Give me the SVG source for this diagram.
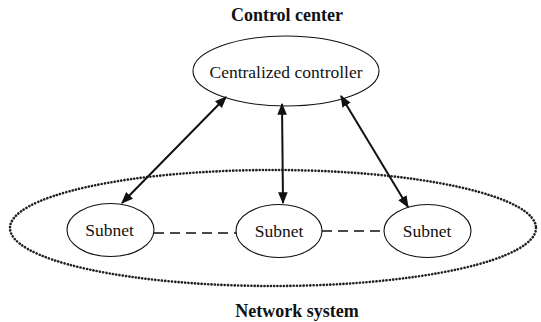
<svg xmlns="http://www.w3.org/2000/svg" width="541" height="322" viewBox="0 0 541 322">
  <style>
    .bubble { fill: #ffffff; stroke: #111111; stroke-width: 1.1; }
    .name { font-family: "Liberation Serif", serif; font-size: 17.5px; fill: #111111; text-anchor: middle; }
    .heading { font-family: "Liberation Serif", serif; font-size: 18px; font-weight: bold; fill: #111111; text-anchor: middle; }
    .link { stroke: #111111; stroke-width: 2; fill: none; marker-start: url(#head); marker-end: url(#head); }
    .peer { stroke: #111111; stroke-width: 1.3; fill: none; stroke-dasharray: 10 6; }
    .region { fill: none; stroke: #222222; stroke-width: 2.6; stroke-dasharray: 0.1 3.2; stroke-linecap: round; }
  </style>
  <defs>
    <marker id="head" viewBox="0 0 10 10" refX="9" refY="5" markerWidth="6" markerHeight="6" markerUnits="strokeWidth" orient="auto-start-reverse">
      <path d="M0,1 L10,5 L0,9 z" fill="#111111"/>
    </marker>
  </defs>

  <rect width="541" height="322" fill="#ffffff"/>

  <!-- network system boundary -->
  <g id="network-system">
    <ellipse class="region" cx="273" cy="228" rx="263" ry="58"/>
    <text class="heading" font-family="Liberation Serif, serif" x="297" y="317">Network system</text>
  </g>

  <!-- control center -->
  <g id="controller">
    <text class="heading" font-family="Liberation Serif, serif" x="287" y="21">Control center</text>
    <ellipse class="bubble" cx="286" cy="71" rx="93" ry="35"/>
    <text class="name" font-family="Liberation Serif, serif" x="286" y="78">Centralized controller</text>
  </g>

  <g id="subnet-1">
    <ellipse class="bubble" cx="110.5" cy="230" rx="43.5" ry="26.5"/>
    <text class="name" font-family="Liberation Serif, serif" x="109.5" y="236">Subnet</text>
  </g>
  <g id="subnet-2">
    <ellipse class="bubble" cx="279" cy="231" rx="43" ry="26.5"/>
    <text class="name" font-family="Liberation Serif, serif" x="279" y="237">Subnet</text>
  </g>
  <g id="subnet-3">
    <ellipse class="bubble" cx="427.5" cy="231" rx="43.5" ry="26.5"/>
    <text class="name" font-family="Liberation Serif, serif" x="427" y="237">Subnet</text>
  </g>

  <!-- connectors -->
  <g id="connectors">
    <line class="link" x1="226" y1="97" x2="122" y2="203"/>
    <line class="link" x1="282" y1="104" x2="283" y2="203"/>
    <line class="link" x1="341" y1="96" x2="408" y2="207"/>
    <line class="peer" x1="154" y1="233" x2="236" y2="233"/>
    <line class="peer" x1="322" y1="231" x2="384" y2="231"/>
  </g>
</svg>
